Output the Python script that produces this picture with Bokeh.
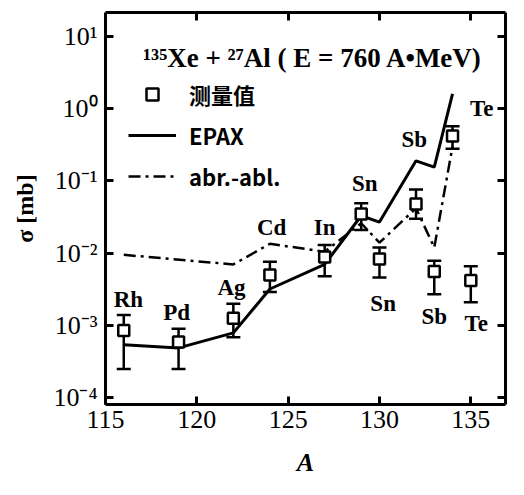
from bokeh.plotting import figure
from bokeh.models import (ColumnDataSource, Whisker, TeeHead, FixedTicker, LinearAxis,
                          LogAxis, Legend, LegendItem, Range1d, Label)
from bokeh.core.properties import value
from bokeh.embed import file_html
from bokeh.resources import INLINE

# ---- data ----
A_meas = [116, 119, 122, 124, 127, 129, 130, 132, 133, 134, 135]
sig_meas = [8.5e-4, 5.9e-4, 1.26e-3, 5.0e-3, 8.9e-3, 3.5e-2, 8.3e-3, 4.8e-2, 5.6e-3, 0.42, 4.2e-3]
sig_hi = [1.4e-3, 9.0e-4, 2.0e-3, 7.6e-3, 1.3e-2, 4.9e-2, 1.2e-2, 7.6e-2, 7.9e-3, 0.57, 6.6e-3]
sig_lo = [2.5e-4, 2.5e-4, 6.9e-4, 2.9e-3, 4.8e-3, 2.1e-2, 4.6e-3, 3.0e-2, 2.7e-3, 0.28, 2.1e-3]

A_epax = [116, 119, 122, 124, 127, 129, 130, 132, 133, 134]
sig_epax = [5.4e-4, 4.9e-4, 7.9e-4, 3.2e-3, 7.0e-3, 3.3e-2, 2.7e-2, 0.19, 0.155, 1.6]

A_abr = [116, 122, 124, 127, 129, 130, 132, 133, 134]
sig_abr = [9.5e-3, 7.0e-3, 1.35e-2, 1.05e-2, 2.6e-2, 1.4e-2, 4.2e-2, 1.2e-2, 0.30]

el_names = ["Rh", "Pd", "Ag", "Cd", "In", "Sn", "Sb", "Te", "Sn", "Sb", "Te"]
el_A = [116.25, 118.9, 121.9, 124.1, 127.0, 129.2, 131.9, 135.6, 130.2, 133.0, 135.3]
el_sig = [2.3e-3, 1.5e-3, 3.4e-3, 2.3e-2, 2.3e-2, 9.1e-2, 0.38, 1.0, 2.0e-3, 1.35e-3, 1.05e-3]

x_ticks = [115, 120, 125, 130, 135]
y_ticks = [1e-4, 1e-3, 1e-2, 1e-1, 1e0, 1e1]
y_tick_labels = ["10⁻⁴", "10⁻³", "10⁻²", "10⁻¹", "10⁰", "10¹"]

title_text = "¹³⁵Xe + ²⁷Al  ( E = 760  A•MeV)"

SERIF = "Liberation Serif"

p = figure(width=508, height=479, y_axis_type="log",
           x_range=Range1d(115, 136.9), y_range=Range1d(10 ** -4.093, 10 ** 1.331),
           output_backend="svg", toolbar_location=None,
           min_border_left=105, min_border_right=3, min_border_top=12, min_border_bottom=73)
p.outline_line_color = None
p.grid.visible = False

def style_axis(ax, labels=True):
    ax.axis_line_width = 3
    ax.axis_line_color = "black"
    ax.major_tick_in = 8
    ax.major_tick_out = 0
    ax.major_tick_line_width = 3
    ax.major_tick_line_color = "black"
    ax.minor_tick_line_color = None
    if labels:
        ax.major_label_text_font = SERIF
        ax.major_label_text_font_size = "26px"
        ax.major_label_text_color = "black"
    else:
        ax.major_label_text_font_size = "0px"
        ax.major_label_text_color = None
        ax.major_label_standoff = 0

xa = p.xaxis[0]
style_axis(xa)
xa.ticker = FixedTicker(ticks=x_ticks)
xa.axis_label = "A"
xa.axis_label_text_font = SERIF
xa.axis_label_text_font_style = "bold italic"
xa.axis_label_text_font_size = "26px"
xa.axis_label_text_color = "black"
xa.axis_label_standoff = 17
xa.major_label_standoff = 6

ya = p.yaxis[0]
style_axis(ya)
ya.ticker = FixedTicker(ticks=y_ticks)
ya.major_label_overrides = {t: l for t, l in zip(y_ticks, y_tick_labels)}
ya.axis_label = "σ [mb]"
ya.axis_label_text_font = SERIF
ya.axis_label_text_font_style = "bold"
ya.axis_label_text_font_size = "24px"
ya.axis_label_text_color = "black"
ya.axis_label_standoff = 12
ya.major_label_standoff = 8

top = LinearAxis(ticker=FixedTicker(ticks=x_ticks[1:]))
style_axis(top, labels=False)
p.add_layout(top, "above")
right = LogAxis(ticker=FixedTicker(ticks=y_ticks))
style_axis(right, labels=False)
p.add_layout(right, "right")

# lines
r_epax = p.line(A_epax, sig_epax, line_color="black", line_width=3)
r_abr = p.line(A_abr, sig_abr, line_color="black", line_width=2.5, line_dash="12 5 3 5")

# error bars
src = ColumnDataSource(dict(x=A_meas, y=sig_meas, hi=sig_hi, lo=sig_lo))
w = Whisker(base="x", upper="hi", lower="lo", source=src, line_width=2.5, line_color="black",
            upper_head=TeeHead(size=14, line_width=2.5, line_color="black"),
            lower_head=TeeHead(size=14, line_width=2.5, line_color="black"))
p.add_layout(w)
r_meas = p.scatter("x", "y", source=src, marker="square", size=11, fill_color="white",
                   line_color="black", line_width=2.5)

# element labels
p.text(el_A, el_sig, text=el_names, text_font=value(SERIF), text_font_style="bold",
       text_font_size="23px", text_align="center", text_baseline="middle", text_color="black")

# title inside
p.add_layout(Label(x=117.05, y=5.0, text=title_text, text_font=SERIF, text_font_style="bold",
                   text_font_size="27px", text_baseline="middle", text_color="black"))

legend = Legend(items=[LegendItem(label="测量值", renderers=[r_meas]),
                       LegendItem(label="EPAX", renderers=[r_epax]),
                       LegendItem(label="abr.-abl.", renderers=[r_abr])],
                location=(23, 212), orientation="vertical",
                label_text_font="Noto Sans CJK SC", label_text_font_style="bold",
                label_text_font_size="22px", label_text_color="black",
                glyph_width=48, glyph_height=30,
                label_height=30, spacing=9, label_standoff=13, padding=0, margin=0,
                border_line_color=None, background_fill_alpha=0)
p.add_layout(legend)

open("out.html", "w").write(file_html(p, INLINE))
